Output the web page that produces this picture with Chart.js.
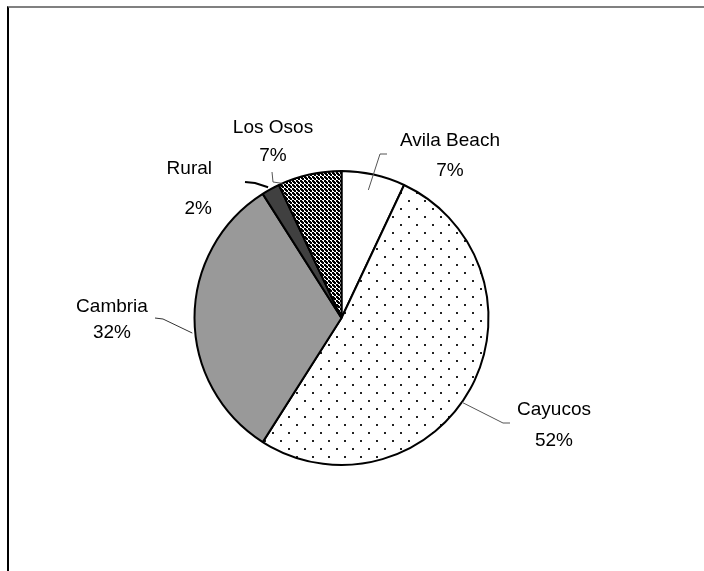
<!DOCTYPE html>
<html>
<head>
<meta charset="utf-8">
<script src="https://cdn.jsdelivr.net/npm/chart.js@4.4.1/dist/chart.umd.min.js"></script>
<style>
  html, body { margin: 0; padding: 0; background: #fff; }
  #wrap { position: relative; width: 704px; height: 571px; }
  #frame {
    position: absolute; left: 7px; top: 6px; right: 0; bottom: 0;
    border-top: 2px solid #808080; border-left: 2px solid #000;
  }
  #box { position: absolute; left: 0; top: 0; width: 704px; height: 571px; }
</style>
</head>
<body>
<div id="wrap">
  <div id="frame"></div>
  <div id="box"><canvas id="pie"></canvas></div>
</div>
<script>
// données
const categories = ["Avila Beach", "Cayucos", "Cambria", "Rural", "Los Osos"]
const shares = [7, 52, 32, 2, 7]

// placement des étiquettes (frac = position dans la part, rad = facteur du rayon)
const labelLayout = [
  { frac: 0.47, rad: 0.89, path: [[380, 154], [387, 154]], x: 450, y1: 141, y2: 171, align: "center", color: "#555", lw: 1 },
  { frac: 0.533, rad: 1.0, path: [[503, 423], [510, 423]], x: 554, y1: 410, y2: 441, align: "center", color: "#555", lw: 1 },
  { frac: 0.45, rad: 1.02, path: [[163, 319], [155, 318]], x: 112, y1: 307, y2: 333, align: "center", color: "#333", lw: 1 },
  { frac: 0.43, rad: 1.02, path: [[255, 183], [245, 182]], x: 212, y1: 169, y2: 209, align: "right", color: "#000", lw: 2 },
  { frac: 0.06, rad: 1.0, path: [[273, 182], [272, 172]], x: 273, y1: 128, y2: 156, align: "center", color: "#555", lw: 1 },
]

function makePattern(size, draw) {
  const c = document.createElement("canvas")
  c.width = size
  c.height = size
  const g = c.getContext("2d")
  draw(g)
  return g.createPattern(c, "repeat")
}

// motif points (Cayucos)
const dots = makePattern(16, (g) => {
  g.fillStyle = "#fff"
  g.fillRect(0, 0, 16, 16)
  g.fillStyle = "#222"
  g.fillRect(0, 0, 2, 2)
  g.fillRect(8, 8, 2, 2)
})

// motif damier (Los Osos)
const checker = makePattern(4, (g) => {
  g.fillStyle = "#fff"
  g.fillRect(0, 0, 4, 4)
  g.fillStyle = "#000"
  g.fillRect(0, 0, 2, 2)
  g.fillRect(2, 2, 2, 2)
  g.fillRect(1, 1, 2, 2)
})

const fills = ["#ffffff", dots, "#999999", "#404040", checker]

const labelsPlugin = {
  id: "sliceLabels",
  afterDraw(chart) {
    const ctx = chart.ctx
    const meta = chart.getDatasetMeta(0)
    const total = shares.reduce((a, b) => a + b, 0)
    meta.data.forEach((arc, i) => {
      const L = labelLayout[i]
      const p = arc.getProps(["x", "y", "startAngle", "endAngle", "outerRadius"], true)
      const a = p.startAngle + (p.endAngle - p.startAngle) * L.frac
      const sx = p.x + Math.cos(a) * p.outerRadius * L.rad
      const sy = p.y + Math.sin(a) * p.outerRadius * L.rad

      ctx.save()
      ctx.strokeStyle = L.color
      ctx.lineWidth = L.lw
      ctx.beginPath()
      ctx.moveTo(sx, sy)
      L.path.forEach((pt) => ctx.lineTo(pt[0], pt[1]))
      ctx.stroke()

      ctx.fillStyle = "#000"
      ctx.font = "19px 'Liberation Sans', Arial, sans-serif"
      ctx.textAlign = L.align
      ctx.textBaseline = "middle"
      ctx.fillText(categories[i], L.x, L.y1)
      ctx.fillText(Math.round((shares[i] / total) * 100) + "%", L.x, L.y2)
      ctx.restore()
    })
  },
}

new Chart(document.getElementById("pie"), {
  type: "pie",
  data: {
    labels: categories,
    datasets: [
      {
        data: shares,
        backgroundColor: fills,
        borderColor: "#000",
        borderWidth: 2,
      },
    ],
  },
  options: {
    responsive: true,
    maintainAspectRatio: false,
    devicePixelRatio: 1,
    animation: false,
    radius: 147,
    layout: { padding: { left: 141, right: 162, top: 171, bottom: 106 } },
    plugins: {
      legend: { display: false },
      tooltip: { enabled: false },
    },
  },
  plugins: [labelsPlugin],
})
</script>
</body>
</html>
